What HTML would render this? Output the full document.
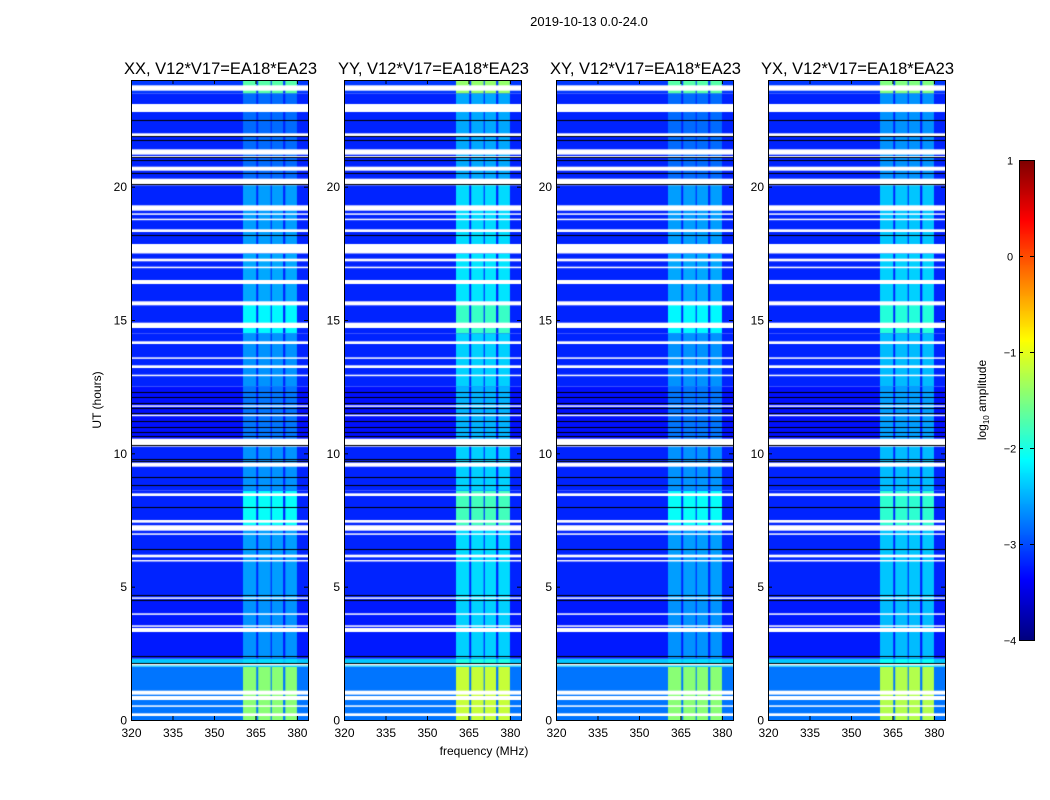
<!DOCTYPE html>
<html><head><meta charset="utf-8">
<style>
body{margin:0;background:#fff;width:1050px;height:800px;overflow:hidden;position:relative;font-family:"Liberation Sans",sans-serif;}
canvas{position:absolute;}
svg{position:absolute;left:0;top:0;}
text{font-family:"Liberation Sans",sans-serif;}
</style></head>
<body>
<div id="wrap"></div>
<svg id="svg" width="1050" height="800"></svg>
<script>
// ---- data ----
const panelTitles = ["XX, V12*V17=EA18*EA23","YY, V12*V17=EA18*EA23","XY, V12*V17=EA18*EA23","YX, V12*V17=EA18*EA23"];
const panelLeft = [131,344,556,768];
const rfiBands = [[360.5,365.3],[366,370.5],[370.9,375],[375.8,380]];
// time segments [start hour, end hour, background log amp, rfi log amp]
const timeSegments = [
 [0,2.0,-2.8,-1.45],[2.0,2.3,-2.4,-2.3],[2.3,4.5,-3.25,-2.65],[4.5,7.3,-3.2,-2.6],
 [7.3,8.6,-3.2,-2.1],[8.6,10.3,-3.2,-2.65],[10.3,12.5,-3.3,-2.8],[12.5,14.5,-3.2,-2.65],
 [14.5,15.6,-3.2,-2.15],[15.6,17.5,-3.2,-2.55],[17.5,20.2,-3.2,-2.6],[20.2,23.5,-3.2,-2.85],[23.5,24,-3.1,-1.7]
];
const panelRfiBoost = [0,0.3,0,0.2];
// flagged (white) rows in hours [start,end]
const flaggedRows = [
 [23.6,23.8],[22.8,23.1],[21.9,22.0],[21.2,21.4],[21.1,21.15],[20.6,20.75],[20.05,20.3],
 [19.1,19.3],[18.95,19.0],[18.75,18.8],[18.3,18.4],[17.5,17.85],[17.2,17.3],[16.95,17.0],
 [16.35,16.5],[15.55,15.7],[14.7,14.9],[14.1,14.2],[13.55,13.6],[13.2,13.3],[12.9,12.95],
 [11.75,11.8],[11.4,11.45],[10.25,10.55],[9.5,9.65],[8.4,8.5],[7.4,7.5],[7.1,7.3],[6.95,7.0],
 [6.1,6.2],[5.95,6.0],[4.55,4.6],[3.95,4.0],[3.5,3.55],[3.3,3.45],[2.05,2.1],[0.95,1.1],[0.75,0.9],[0.5,0.55],[0.15,0.25]
];
const blackRows = [22.5,21.9,21.75,21.1,21.0,20.5,20.1,18.2,12.3,12.1,11.9,11.7,11.5,11.2,11.0,10.8,10.65,10.3,9.8,9.7,9.1,8.8,8.0,6.4,4.7,4.5,2.4,2.15];
const xTicks = [320,335,350,365,380];
const yTicks = [0,5,10,15,20];
const cbTicks = [-4,-3,-2,-1,0,1];
// ---- scales ----
const plotTop=80, plotBot=720, plotW=177;
const yH = h => plotBot - h*(plotBot-plotTop)/24;
const xF = (f,l) => l + (f-320)*(plotW)/(384-320);
function jet(v){
  const r=Math.min(1,Math.max(0,1.5-Math.abs(4*v-3)));
  const g=Math.min(1,Math.max(0,1.5-Math.abs(4*v-2)));
  const b=Math.min(1,Math.max(0,1.5-Math.abs(4*v-1)));
  return [r*255|0,g*255|0,b*255|0];
}
const norm = a => (a+4)/5;
const wrap=document.getElementById('wrap');
const svg=document.getElementById('svg');
const NS="http://www.w3.org/2000/svg";
function T(x,y,s,size,anchor,rot,name){
  const t=document.createElementNS(NS,'text');
  t.setAttribute('x',x);t.setAttribute('y',y);t.setAttribute('font-size',size);
  t.setAttribute('text-anchor',anchor||'middle');
  if(rot)t.setAttribute('transform',`rotate(${rot} ${x} ${y})`);
  t.textContent=s;
  
  
  svg.appendChild(t);return t;
}
function L(x1,y1,x2,y2,name,c){
  const l=document.createElementNS(NS,'line');
  l.setAttribute('x1',x1);l.setAttribute('y1',y1);l.setAttribute('x2',x2);l.setAttribute('y2',y2);
  l.setAttribute('stroke',c||'#000');l.setAttribute('stroke-width',1);
  
  
  svg.appendChild(l);
}
T(589,26,"2019-10-13 0.0-24.0",13,'middle',0,'figure-title');
panelLeft.forEach((left,p)=>{
  const cv=document.createElement('canvas');
  cv.width=plotW;cv.height=plotBot-plotTop;
  cv.style.left=left+'px';cv.style.top=plotTop+'px';
  
  
  wrap.appendChild(cv);
  const ctx=cv.getContext('2d');
  timeSegments.forEach(s=>{
    const y0=yH(s[1])-plotTop, y1=yH(s[0])-plotTop;
    const bg=jet(norm(s[2]));
    ctx.fillStyle=`rgb(${bg})`;ctx.fillRect(0,y0,plotW,y1-y0);
    const rc=jet(norm(Math.min(1,s[3]+panelRfiBoost[p])));
    ctx.fillStyle=`rgb(${rc})`;
    rfiBands.forEach(b=>{
      const x0=xF(b[0],0),x1=xF(b[1],0);
      ctx.fillRect(x0,y0,x1-x0,y1-y0);
    });
  });
  ctx.fillStyle='#fff';
  flaggedRows.forEach(r=>{const y0=yH(r[1])-plotTop,y1=yH(r[0])-plotTop;ctx.fillRect(0,y0,plotW,Math.max(1.5,y1-y0));});
  ctx.fillStyle='#000';
  blackRows.forEach(h=>{ctx.fillRect(0,Math.round(yH(h)-plotTop),plotW,1);});
  const r=document.createElementNS(NS,'rect');
  r.setAttribute('x',left+0.5);r.setAttribute('y',plotTop+0.5);r.setAttribute('width',plotW);r.setAttribute('height',plotBot-plotTop);
  r.setAttribute('fill','none');r.setAttribute('stroke','#000');
  
  
  svg.appendChild(r);
  T(left+plotW/2+1,74,panelTitles[p],16.5,'middle',0,'panel-title');
  xTicks.forEach(f=>{const x=xF(f,left)+0.5;
    L(x,plotBot,x,plotBot-4,'x-tick');L(x,plotTop,x,plotTop+4,'x-tick-top');
    T(x,737,String(f),12,'middle',0,'x-tick-label');});
  yTicks.forEach(h=>{const y=yH(h)+0.5;
    L(left,y,left+4,y,'y-tick');L(left+plotW,y,left+plotW-4,y,'y-tick-right');
    T(left-4,y+4,String(h),12,'end',0,'y-tick-label');});
});
T(484,755,"frequency (MHz)",12,'middle',0,'x-axis-title');
T(101,400,"UT (hours)",12,'middle',-90,'y-axis-title');
const cb=document.createElement('canvas');cb.width=15;cb.height=480;
cb.style.left='1019px';cb.style.top='160px';


wrap.appendChild(cb);
const cctx=cb.getContext('2d');
for(let i=0;i<480;i++){cctx.fillStyle=`rgb(${jet(1-i/479)})`;cctx.fillRect(0,i,15,1);}
const cr=document.createElementNS(NS,'rect');
cr.setAttribute('x',1019.5);cr.setAttribute('y',160.5);cr.setAttribute('width',15);cr.setAttribute('height',480);
cr.setAttribute('fill','none');cr.setAttribute('stroke','#000');


svg.appendChild(cr);
cbTicks.forEach(v=>{const y=640-(v+4)*96+0.5;
  L(1019,y,1023,y,'colorbar-tick');L(1034,y,1030,y,'colorbar-tick');
  T(1010,y+4,(v<0?'\u2212':'')+Math.abs(v),11,'middle',0,'colorbar-tick-label');});
const lab=T(986,400,"",12,'middle',-90,'colorbar-title');
lab.innerHTML='log<tspan font-size="8" dy="3">10</tspan><tspan dy="-3"> amplitude</tspan>';
</script>
</body></html>
